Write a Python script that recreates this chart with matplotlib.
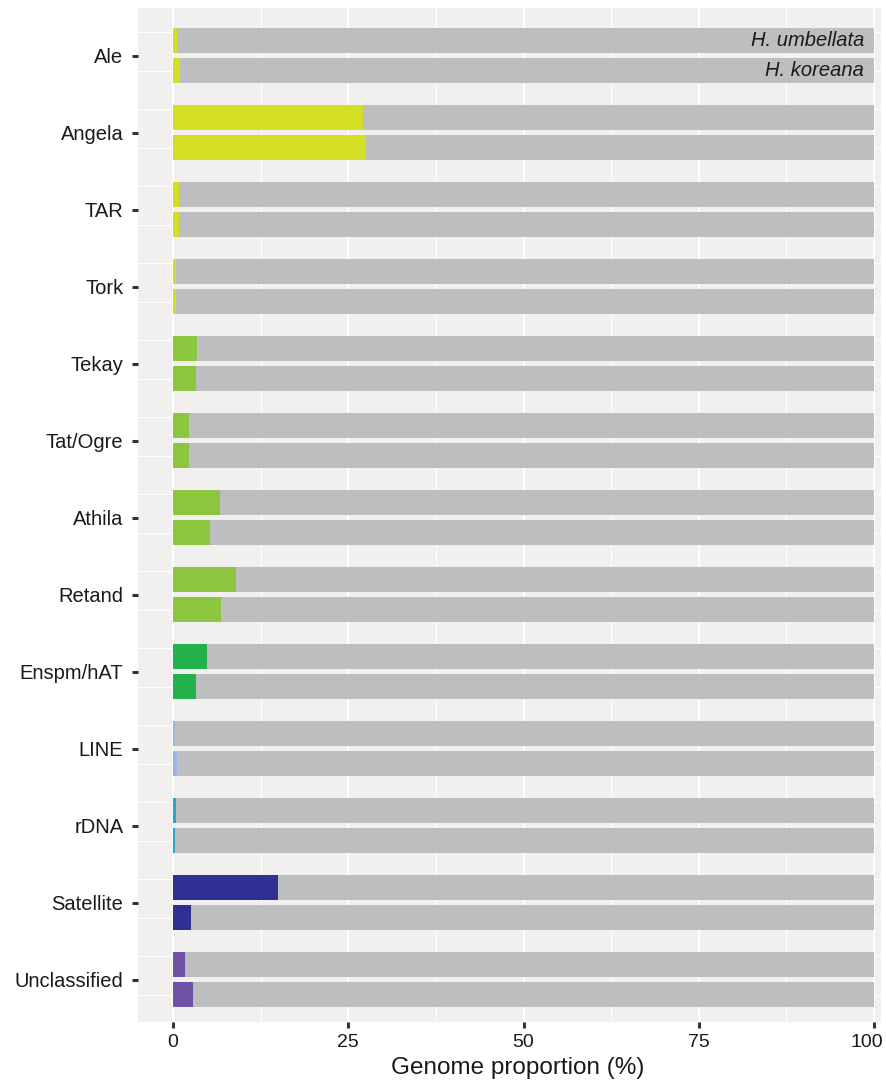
import numpy as np
import matplotlib.pyplot as plt
from matplotlib.transforms import ScaledTranslation

plt.rcParams['font.family'] = ['Liberation Sans', 'DejaVu Sans']

families = ["Ale", "Angela", "TAR", "Tork", "Tekay", "Tat/Ogre", "Athila",
            "Retand", "Enspm/hAT", "LINE", "rDNA", "Satellite", "Unclassified"]
# genome proportion (%) per species
umbellata = [0.6, 27.1, 0.9, 0.45, 3.4, 2.3, 6.75, 9.0, 4.8, 0.25, 0.38, 14.9, 1.7]
koreana = [1.05, 27.5, 0.9, 0.4, 3.3, 2.2, 5.3, 6.85, 3.3, 0.6, 0.24, 2.5, 2.9]
colors = ["#d4de24", "#d4de24", "#d4de24", "#d4de24",
          "#8cc63f", "#8cc63f", "#8cc63f", "#8cc63f",
          "#22b14c", "#9ab5e0", "#1ca8e0", "#2e3192", "#7052a5"]
species = ["H. umbellata", "H. koreana"]

grey = "#bdbec0"
bg = "#f2f0ee"

fig = plt.figure(figsize=(8.86, 10.88), dpi=100)
ax = fig.add_axes([0.1558, 0.0607, 0.9944 - 0.1558, 0.9926 - 0.0607])
ax.set_facecolor(bg)

y = np.arange(len(families))
off = 0.195
h = 0.325

# grid
for gx in np.arange(0, 101, 12.5):
    lw = 1.4 if gx % 25 == 0 else 0.8
    ax.axvline(gx, color="white", lw=lw, zorder=0)
for gy in np.arange(-0.305, len(families), 0.5):
    ax.axhline(gy, color="white", lw=0.8, zorder=0)

for vals, dy in [(umbellata, -off), (koreana, off)]:
    vals = np.array(vals)
    ax.barh(y + dy, vals, height=h, color=colors, zorder=2, lw=0)
    ax.barh(y + dy, 100 - vals, left=vals, height=h, color=grey, zorder=2, lw=0)

ax.text(98.6, 0 - off, species[0], ha="right", va="center", style="italic",
        fontsize=14.5, color="#1a1a1a", zorder=3)
ax.text(98.6, 0 + off, species[1], ha="right", va="center", style="italic",
        fontsize=14.5, color="#1a1a1a", zorder=3)

ax.set_xlim(-5, 101)
ax.set_ylim(12.55, -0.617)
ax.set_yticks(y)
ax.set_yticklabels(families, fontsize=14.5, color="#1a1a1a")
ax.set_xticks([0, 25, 50, 75, 100])
ax.set_xticklabels(["0", "25", "50", "75", "100"], fontsize=14, color="#1a1a1a")
ax.tick_params(axis="both", length=4, width=2.2, color="#333333")
ax.tick_params(axis="x", pad=5)
ax.tick_params(axis="y", pad=6.5)
# last label nudged left so it stays inside the figure
last = ax.get_xticklabels()[-1]
last.set_transform(last.get_transform() + ScaledTranslation(-7 / 100, 0, fig.dpi_scale_trans))

ax.set_xlabel("Genome proportion (%)", fontsize=17.5, color="#1a1a1a", va="top")
ax.xaxis.set_label_coords(0.511, -0.035)
for s in ax.spines.values():
    s.set_visible(False)

fig.savefig("out.png", dpi=100, facecolor="white")
